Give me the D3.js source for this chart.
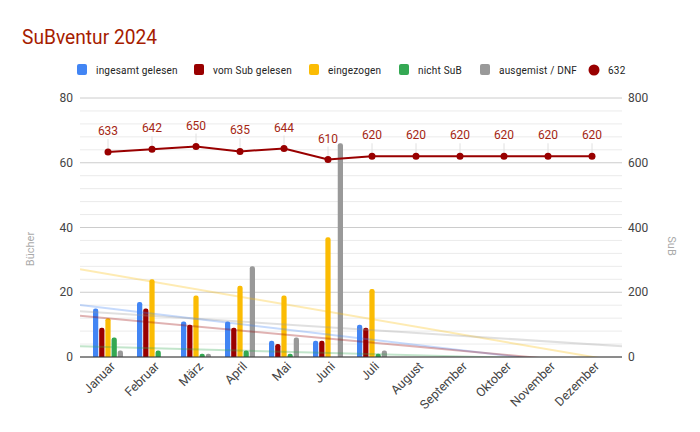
<!DOCTYPE html>
<html><head><meta charset="utf-8">
<script src="https://cdn.jsdelivr.net/npm/d3@7"></script>
<style>html,body{margin:0;padding:0;background:#fff;}svg{display:block;font-family:Roboto,Arial,sans-serif;}</style>
</head><body><svg id="c" width="700" height="432"></svg>
<script>
const months = ["Januar","Februar","März","April","Mai","Juni","Juli","August","September","Oktober","November","Dezember"];
const seriesNames = ["ingesamt gelesen","vom Sub gelesen","eingezogen","nicht SuB","ausgemist / DNF"];
const gesamt   = [15,17,11,11,5,5,10,0,0,0,0,0];
const vomSub   = [9,15,10,9,4,5,9,0,0,0,0,0];
const eingezog = [12,24,19,22,19,37,21,0,0,0,0,0];
const nichtSub = [6,2,1,2,1,0,1,0,0,0,0,0];
const ausgem   = [2,0,1,28,6,66,2,0,0,0,0,0];
const subName = "632";
const subValues = [633,642,650,635,644,610,620,620,620,620,620,620];
const leftTicks = [0,20,40,60,80];
const rightTicks = [0,200,400,600,800];
const colors = ["#4285f4","#990000","#fbbc04","#34a853","#999999"];
const lineColor = "#990000";

const barData = [gesamt, vomSub, eingezog, nichtSub, ausgem];
const svg = d3.select("#c");
const L = 80, R = 622, T = 98, B = 357;

const x = d3.scaleBand().domain(months).range([86, 614]);
const xi = d3.scaleBand().domain(seriesNames).range([-15, 15]).paddingInner(0.15);
const y = d3.scaleLinear().domain([0, 80]).range([B, T]);
const y2 = d3.scaleLinear().domain([0, 800]).range([B, T]);

// title
svg.append("text").attr("x", 22).attr("y", 44).attr("font-size", 20)
  .attr("textLength", 135).attr("lengthAdjust", "spacingAndGlyphs")
  .attr("fill", "#a61c00").text("SuBventur 2024");

// gridlines
const minor = d3.range(0, 81, 4);
svg.append("g").selectAll("line").data(minor).join("line")
  .attr("x1", L).attr("x2", R).attr("y1", d => y(d)).attr("y2", d => y(d))
  .attr("stroke", d => d % 20 === 0 ? "#cccccc" : "#ebebeb").attr("stroke-width", 1);

// axis labels
svg.append("g").selectAll("text").data(leftTicks).join("text")
  .attr("x", 73).attr("y", d => y(d) + 4).attr("text-anchor", "end")
  .attr("font-size", 12).attr("fill", "#444").text(d => d);
svg.append("g").selectAll("text").data(rightTicks).join("text")
  .attr("x", 628).attr("y", d => y2(d) + 4).attr("text-anchor", "start")
  .attr("font-size", 12).attr("fill", "#444").text(d => d);

// axis titles
svg.append("text").attr("transform", "translate(34,249) rotate(-90)").attr("text-anchor", "middle")
  .attr("font-size", 11).attr("fill", "#aaaaaa").text("Bücher");
svg.append("text").attr("transform", "translate(668,246) rotate(90)").attr("text-anchor", "middle")
  .attr("font-size", 11).attr("fill", "#aaaaaa").text("SuB");

// clip
svg.append("defs").append("clipPath").attr("id", "plot").append("rect")
  .attr("x", L).attr("y", T - 2).attr("width", R - L).attr("height", B - T + 2);

// bars
const bars = svg.append("g").attr("clip-path", "url(#plot)");
barData.forEach((vals, si) => {
  bars.append("g").selectAll("rect").data(vals.map((v, i) => ({v, m: months[i]})).filter(d => d.v > 0))
    .join("rect")
    .attr("x", d => x(d.m) + x.bandwidth() / 2 + xi(seriesNames[si]))
    .attr("width", xi.bandwidth())
    .attr("y", d => y(d.v))
    .attr("height", d => B - y(d.v) + 4)
    .attr("rx", 2.2)
    .attr("fill", colors[si]);
});

// trendlines (linear regression over month index)
const step = x.step();
const idxOf = px => (px - (x(months[0]) + x.bandwidth() / 2)) / step;
const tr = svg.append("g").attr("clip-path", "url(#plot)");
barData.forEach((vals, si) => {
  const mx = d3.mean(vals, (v, i) => i), my = d3.mean(vals);
  let sxy = 0, sxx = 0;
  vals.forEach((v, i) => { sxy += (i - mx) * (v - my); sxx += (i - mx) * (i - mx); });
  const slope = sxy / sxx;
  const f = px => my + slope * (idxOf(px) - mx);
  tr.append("line").attr("x1", L).attr("x2", R)
    .attr("y1", y(f(L))).attr("y2", y(f(R)))
    .attr("stroke", colors[si]).attr("stroke-opacity", 0.3).attr("stroke-width", 2);
});

// axis baseline
svg.append("line").attr("x1", L).attr("x2", R).attr("y1", B).attr("y2", B)
  .attr("stroke", "#333").attr("stroke-width", 1);

// x labels
svg.append("g").selectAll("text").data(months).join("text")
  .attr("transform", d => `translate(${x(d) + x.bandwidth() / 2 + 8},${B + 10}) rotate(-45)`)
  .attr("text-anchor", "end").attr("font-size", 12.5).attr("fill", "#444").text(d => d);

// line series
const cx = i => x(months[i]) + x.bandwidth() / 2;
const lg = svg.append("g");
lg.selectAll("line.stem").data(subValues).join("line").attr("class", "stem")
  .attr("x1", (d, i) => cx(i)).attr("x2", (d, i) => cx(i))
  .attr("y1", d => y2(d) - 13).attr("y2", d => y2(d))
  .attr("stroke", "#e0e0e0").attr("stroke-width", 1);
lg.append("path").datum(subValues)
  .attr("d", d3.line().x((d, i) => cx(i)).y(d => y2(d)))
  .attr("fill", "none").attr("stroke", lineColor).attr("stroke-width", 2);
lg.selectAll("circle").data(subValues).join("circle")
  .attr("cx", (d, i) => cx(i)).attr("cy", d => y2(d)).attr("r", 3.5).attr("fill", lineColor);
lg.selectAll("text").data(subValues).join("text")
  .attr("x", (d, i) => cx(i)).attr("y", d => y2(d) - 17).attr("text-anchor", "middle")
  .attr("font-size", 12).attr("fill", "#a52714").text(d => d);

// legend
const legendX = [77, 194, 309, 399, 480];
const leg = svg.append("g");
seriesNames.forEach((s, i) => {
  leg.append("rect").attr("x", legendX[i]).attr("y", 64).attr("width", 10).attr("height", 11)
    .attr("rx", 2).attr("fill", colors[i]);
  leg.append("text").attr("x", legendX[i] + 19).attr("y", 74).attr("font-size", 10)
    .attr("fill", "#222").attr("letter-spacing", 0.2).text(s);
});
leg.append("circle").attr("cx", 594).attr("cy", 70).attr("r", 5.5).attr("fill", lineColor);
leg.append("text").attr("x", 608).attr("y", 74).attr("font-size", 10).attr("fill", "#222")
  .attr("letter-spacing", 0.2).text(subName);
</script></body></html>
